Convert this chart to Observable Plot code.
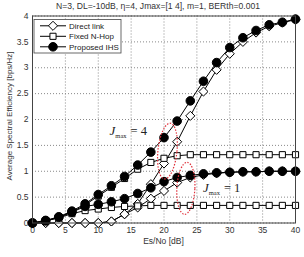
<!DOCTYPE html>
<html><head><meta charset="utf-8">
<script src="https://cdn.jsdelivr.net/npm/d3@7"></script>
<script src="https://cdn.jsdelivr.net/npm/@observablehq/plot@0.6"></script>
<style>
body{margin:0;background:#fff;}
#chart svg{font-family:"Liberation Sans",Arial,sans-serif;}
</style>
</head><body><div id="chart"></div>
<script>
const titleText = "N=3, DL=-10dB, \u03b7=4, Jmax=[1 4], m=1, BERth=0.001";
const xLabel = "Es/No [dB]";
const yLabel = "Average Spectral Efficiency [bps/Hz]";
const xTicks = [0,5,10,15,20,25,30,35,40];
const yTicks = [0,0.5,1,1.5,2,2.5,3,3.5,4];
const snr = [0,2,4,6,8,10,12,14,16,18,20,22,24,26,28,30,32,34,36,38,40];
const directJ4 = [0,0,0,0,0,0,0.03,0.17,0.37,0.75,1.15,1.57,2.07,2.54,2.96,3.27,3.50,3.68,3.80,3.87,3.93];
const fixedJ4  = [0,0.04,0.11,0.21,0.35,0.52,0.69,0.86,1.04,1.17,1.25,1.30,1.32,1.32,1.32,1.32,1.32,1.32,1.32,1.32,1.32];
const ihsJ4    = [0,0.05,0.12,0.23,0.37,0.55,0.72,0.90,1.12,1.37,1.65,1.97,2.36,2.74,3.10,3.39,3.58,3.72,3.83,3.88,3.94];
const directJ1 = [0,0,0,0,0,0,0.03,0.17,0.30,0.47,0.62,0.78,0.88,0.93,0.96,0.98,0.99,0.99,1.0,1.0,1.0];
const fixedJ1  = [0,0.04,0.10,0.18,0.24,0.27,0.30,0.32,0.33,0.34,0.34,0.34,0.34,0.34,0.34,0.34,0.34,0.34,0.34,0.34,0.34];
const ihsJ1    = [0,0.04,0.11,0.21,0.32,0.36,0.41,0.47,0.57,0.68,0.80,0.88,0.92,0.95,0.97,0.98,0.99,0.99,1.0,1.0,1.0];
const legendNames = ["Direct link","Fixed N-Hop","Proposed IHS"];

const styles = {
  direct: {symbol: "diamond2", r: 4.1, fill: "white"},
  fixed:  {symbol: "square2", r: 3.9, fill: "white"},
  ihs:    {symbol: "circle", r: 4.3, fill: "black"}
};
const seriesList = [
  {id:"dJ4", type:"direct", vals: directJ4},
  {id:"fJ4", type:"fixed", vals: fixedJ4},
  {id:"iJ4", type:"ihs", vals: ihsJ4},
  {id:"dJ1", type:"direct", vals: directJ1},
  {id:"fJ1", type:"fixed", vals: fixedJ1},
  {id:"iJ1", type:"ihs", vals: ihsJ1}
];

const marks = [
  Plot.gridX(xTicks, {stroke:"#888", strokeOpacity:1, strokeDasharray:"1,2"}),
  Plot.gridY(yTicks, {stroke:"#888", strokeOpacity:1, strokeDasharray:"1,2"}),
  Plot.axisX(xTicks, {tickSize:0, tickPadding:4, fontSize:8.5, fill:"#333", label:null}),
  Plot.axisY(yTicks, {tickSize:0, tickPadding:4, fontSize:8.5, fill:"#333", label:null, tickFormat: d => String(d)}),
];
for (const s of seriesList) {
  const rows = snr.map((x,i) => ({x, y: s.vals[i]}));
  const st = styles[s.type];
  marks.push(Plot.line(rows, {x:"x", y:"y", stroke:"black", strokeWidth:1}));
  marks.push(Plot.dot(rows, {x:"x", y:"y", symbol: st.symbol, r: st.r, fill: st.fill, stroke:"black", strokeWidth:1}));
}
marks.push(Plot.frame({stroke:"#444"}));

const plot = Plot.plot({
  width: 304, height: 257,
  marginLeft: 32, marginRight: 9, marginTop: 15.5, marginBottom: 34.5,
  x: {domain:[0,40]},
  y: {domain:[0,4]},
  style: {background:"white", overflow:"visible"},
  marks
});
document.getElementById("chart").appendChild(plot);

const xs = plot.scale("x"), ys = plot.scale("y");
const svg = d3.select(plot);

// title and axis labels
svg.append("text").attr("x", 158).attr("y", 9).attr("text-anchor","middle")
  .attr("font-size", 8.6).attr("fill","#333").text(titleText);
svg.append("text").attr("x", (xs.apply(0)+xs.apply(40))/2).attr("y", 244).attr("text-anchor","middle")
  .attr("font-size", 8.5).attr("fill","#333").text(xLabel);
svg.append("text").attr("transform", `translate(12,${(ys.apply(0)+ys.apply(4))/2 - 3}) rotate(-90)`)
  .attr("text-anchor","middle").attr("font-size", 8).attr("fill","#333").text(yLabel);

// legend
const lg = svg.append("g");
lg.append("rect").attr("x", 34).attr("y", 19.5).attr("width", 87).attr("height", 33.5)
  .attr("fill","white").attr("stroke","#444").attr("stroke-width",0.8);
const types = ["direct","fixed","ihs"];
types.forEach((t,i) => {
  const yy = 25.8 + i*10.5;
  lg.append("line").attr("x1",40).attr("x2",66).attr("y1",yy).attr("y2",yy).attr("stroke","black");
  const st = styles[t];
  const sym = {diamond2: d3.symbolDiamond2, square2: d3.symbolSquare2, circle: d3.symbolCircle}[st.symbol];
  lg.append("path").attr("d", d3.symbol(sym, Math.PI*st.r*st.r)()).attr("transform",`translate(53,${yy})`)
    .attr("fill", st.fill).attr("stroke","black");
  lg.append("text").attr("x",69).attr("y",yy+3).attr("text-anchor","start")
    .attr("font-size",8).attr("fill","#222").text(legendNames[i]);
});

// Jmax annotations
function jmax(xv, yv, num) {
  const t = svg.append("text").attr("x", xs.apply(xv)).attr("y", ys.apply(yv)).attr("text-anchor","start")
    .attr("font-family","'Liberation Serif','DejaVu Serif',serif").attr("fill","#222");
  t.append("tspan").attr("font-size",13).attr("font-style","italic").text("J");
  t.append("tspan").attr("font-size",6.5).attr("dy",3).text("max");
  t.append("tspan").attr("font-size",12.5).attr("dy",-3).attr("dx",4).text("= " + num);
}
jmax(11.8, 1.69, 4);
jmax(26.0, 0.59, 1);

// red dotted ellipses
function ell(cx, cy, rx, ry, ang) {
  svg.append("ellipse").attr("cx", 0).attr("cy", 0).attr("rx", rx).attr("ry", ry)
    .attr("transform", `translate(${xs.apply(cx)},${ys.apply(cy)}) rotate(${ang})`)
    .attr("fill","none").attr("stroke","#e0303a").attr("stroke-width",1.2).attr("stroke-dasharray","1.5,1.5");
}
ell(20.6, 1.38, 9.5, 28, 6);
ell(23.4, 0.66, 9, 26, 3);
</script>
</body></html>
